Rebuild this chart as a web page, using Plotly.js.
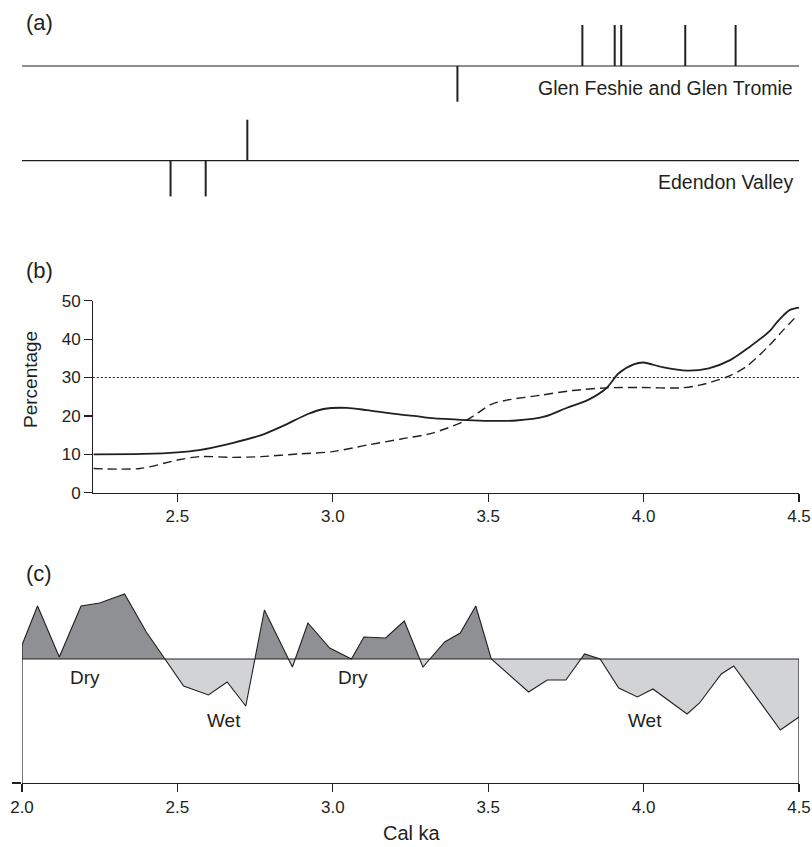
<!DOCTYPE html>
<html>
<head>
<meta charset="utf-8">
<script src="https://cdn.plot.ly/plotly-3.0.1.min.js"></script>
<style>html,body{margin:0;padding:0;background:#fff;}#chart{width:812px;height:847px;}</style>
</head>
<body>
<div id="chart"></div>
<script>
// ---------- Panel (a): dated events (cal ka) ----------
const glenLabel = "Glen Feshie and Glen Tromie";
const glenUp = [3.803, 3.907, 3.928, 4.134, 4.296];
const glenDown = [3.401];
const edenLabel = "Edendon Valley";
const edenUp = [2.725];
const edenDown = [2.478, 2.591];

// ---------- Panel (b): percentage curves ----------
const solidX = [2.23, 2.39, 2.50, 2.57, 2.68, 2.77, 2.84, 2.92, 2.97, 3.045, 3.11, 3.20, 3.28, 3.32, 3.43, 3.50, 3.59, 3.68, 3.75, 3.82, 3.88, 3.92, 3.97, 4.00, 4.06, 4.14, 4.21, 4.28, 4.34, 4.407, 4.428, 4.45, 4.471, 4.50];
const solidY = [10.0, 10.1, 10.5, 11.1, 13.0, 15.0, 17.4, 20.5, 21.8, 22.1, 21.5, 20.5, 19.8, 19.4, 18.9, 18.7, 18.8, 19.8, 22.0, 24.1, 27.2, 31.1, 33.5, 33.9, 32.7, 31.8, 32.4, 34.6, 37.9, 42.2, 44.3, 46.2, 47.6, 48.2];
const dashX = [2.23, 2.38, 2.50, 2.57, 2.68, 2.77, 2.89, 3.00, 3.11, 3.22, 3.32, 3.43, 3.51, 3.56, 3.67, 3.77, 3.88, 3.99, 4.12, 4.18, 4.27, 4.33, 4.40, 4.45, 4.49];
const dashY = [6.3, 6.3, 8.5, 9.4, 9.2, 9.4, 10.1, 10.7, 12.4, 14.0, 15.5, 18.9, 23.0, 24.1, 25.4, 26.6, 27.3, 27.4, 27.3, 28.0, 30.2, 32.8, 38.0, 42.4, 45.8];
const thresholdB = 30;
const bTicks = [2.5, 3.0, 3.5, 4.0, 4.5];
const bYTicks = [0, 10, 20, 30, 40, 50];

// ---------- Panel (c): dry/wet index ----------
const cX = [2.00, 2.05, 2.12, 2.19, 2.25, 2.33, 2.40, 2.52, 2.60, 2.66, 2.72, 2.78, 2.87, 2.92, 2.99, 3.06, 3.10, 3.17, 3.23, 3.29, 3.36, 3.41, 3.46, 3.51, 3.63, 3.69, 3.75, 3.81, 3.86, 3.92, 3.98, 4.03, 4.14, 4.18, 4.25, 4.29, 4.44, 4.50];
const cY = [1.4, 5.3, 0.2, 5.3, 5.6, 6.5, 2.7, -2.7, -3.6, -2.3, -4.7, 4.9, -0.8, 3.6, 1.1, 0.0, 2.2, 2.1, 3.8, -0.8, 1.7, 2.6, 5.3, 0.0, -3.3, -2.1, -2.1, 0.5, 0.0, -2.9, -3.8, -3.0, -5.5, -4.4, -1.5, -0.7, -7.1, -5.8];
const cTicks = [2.0, 2.5, 3.0, 3.5, 4.0, 4.5];
const cLabels = [{t: "Dry", x: 2.203, y: -1.8}, {t: "Wet", x: 2.65, y: -6.1}, {t: "Dry", x: 3.065, y: -1.8}, {t: "Wet", x: 4.005, y: -6.1}];

// ---------- styling constants ----------
const INK = "#231f20";
const FONT = "Liberation Sans, Arial, Helvetica, sans-serif";
const W = 812, H = 847;
const px = v => v / W;
const py = v => 1 - v / H;
const UP = 1, DOWN = -0.87, ROW2 = -2.31;
const C_BOTTOM = -12.4, C_TOP = 7.0;

function segs(vals, base, len) {
  const xs = [], ys = [];
  vals.forEach(v => { xs.push(v, v, null); ys.push(base, base + len, null); });
  return {xs, ys};
}
const a1 = segs(glenUp, 0, UP), a2 = segs(glenDown, 0, DOWN), a3 = segs(edenUp, ROW2, UP), a4 = segs(edenDown, ROW2, DOWN);
const aTicksX = [].concat(a1.xs, a2.xs, a3.xs, a4.xs);
const aTicksY = [].concat(a1.ys, a2.ys, a3.ys, a4.ys);

// split series into positive and negative parts with zero crossings
function splitSign(xs, ys, positive) {
  const ox = [], oy = [];
  const clip = v => positive ? Math.max(v, 0) : Math.min(v, 0);
  for (let i = 0; i < xs.length; i++) {
    if (i > 0) {
      const y0 = ys[i-1], y1 = ys[i];
      if ((y0 > 0 && y1 < 0) || (y0 < 0 && y1 > 0)) {
        const t = y0 / (y0 - y1);
        ox.push(xs[i-1] + t * (xs[i] - xs[i-1])); oy.push(0);
      }
    }
    ox.push(xs[i]); oy.push(clip(ys[i]));
  }
  return {ox, oy};
}
const pos = splitSign(cX, cY, true);
const neg = splitSign(cX, cY, false);
const xFirst = cX[0], xLast = cX[cX.length - 1];

const traces = [
  // panel a
  {x: [cTicks[0], cTicks[cTicks.length-1]], y: [0, 0], xaxis: "x", yaxis: "y", mode: "lines", line: {color: INK, width: 1.2}, hoverinfo: "skip"},
  {x: [cTicks[0], cTicks[cTicks.length-1]], y: [ROW2, ROW2], xaxis: "x", yaxis: "y", mode: "lines", line: {color: INK, width: 1.2}, hoverinfo: "skip"},
  {x: aTicksX, y: aTicksY, xaxis: "x", yaxis: "y", mode: "lines", line: {color: INK, width: 2}, hoverinfo: "skip"},
  // panel b
  {x: dashX, y: dashY, xaxis: "x2", yaxis: "y2", mode: "lines", line: {color: INK, width: 1.4, dash: "9px,5px", shape: "spline", smoothing: 0.8}},
  {x: solidX, y: solidY, xaxis: "x2", yaxis: "y2", mode: "lines", line: {color: INK, width: 1.8, shape: "spline", smoothing: 0.8}},
  // panel c
  {x: pos.ox, y: pos.oy, xaxis: "x3", yaxis: "y3", mode: "lines", fill: "tozeroy", fillcolor: "#8f9094", line: {width: 0}, hoverinfo: "skip"},
  {x: neg.ox, y: neg.oy, xaxis: "x3", yaxis: "y3", mode: "lines", fill: "tozeroy", fillcolor: "#d2d3d5", line: {width: 0}, hoverinfo: "skip"},
  {x: cX, y: cY, xaxis: "x3", yaxis: "y3", mode: "lines", line: {color: INK, width: 1.1}},
  {x: [xFirst, xLast, null, xFirst, xFirst, null, xLast, xLast], y: [0, 0, null, C_BOTTOM, cY[0], null, C_BOTTOM, 0], xaxis: "x3", yaxis: "y3", mode: "lines", line: {color: INK, width: 1.2}, hoverinfo: "skip"}
];

const tickFont = {family: FONT, size: 17, color: INK};
const annFont = {family: FONT, size: 19, color: INK};
const annotations = [
  {text: "(a)", x: px(24), y: py(22), xanchor: "left", yanchor: "middle", font: {family: FONT, size: 22, color: INK}},
  {text: "(b)", x: px(24), y: py(270), xanchor: "left", yanchor: "middle", font: {family: FONT, size: 22, color: INK}},
  {text: "(c)", x: px(24), y: py(573), xanchor: "left", yanchor: "middle", font: {family: FONT, size: 22, color: INK}},
  {text: glenLabel, x: px(795), y: py(88), xanchor: "right", yanchor: "middle", font: {family: FONT, size: 19.5, color: INK}},
  {text: edenLabel, x: px(795), y: py(182), xanchor: "right", yanchor: "middle", font: {family: FONT, size: 19.5, color: INK}},
  {text: "Percentage", x: px(30), y: py(380), xanchor: "center", yanchor: "middle", textangle: -90, font: annFont},
  {text: "Cal ka", x: px(412), y: py(833), xanchor: "center", yanchor: "middle", font: {family: FONT, size: 20, color: INK}}
].map(a => Object.assign({xref: "paper", yref: "paper", showarrow: false}, a));
cLabels.forEach(l => annotations.push({text: l.t, x: l.x, y: l.y, xref: "x3", yref: "y3", showarrow: false, xanchor: "center", yanchor: "middle", font: annFont}));

const layout = {
  width: W, height: H,
  margin: {l: 0, r: 0, t: 0, b: 0},
  paper_bgcolor: "#fff", plot_bgcolor: "rgba(0,0,0,0)",
  showlegend: false,
  font: {family: FONT, color: INK},
  xaxis: {domain: [px(22), px(799)], range: [2.0, 4.5], visible: false, anchor: "y"},
  yaxis: {domain: [py(200), py(20)], range: [1.122 - 4.39, 1.122], visible: false, anchor: "x"},
  xaxis2: {domain: [px(93.3), px(799)], range: [2.2295, 4.5], anchor: "y2", showline: true, linecolor: INK, linewidth: 1.3,
           ticks: "outside", ticklen: 8, tickcolor: INK, tickwidth: 1.2, tickvals: bTicks, tickformat: ".1f",
           tickfont: tickFont, showgrid: false, zeroline: false},
  yaxis2: {domain: [py(492.7), py(300.7)], range: [0, 50], anchor: "x2", showline: true, linecolor: INK, linewidth: 1.3,
           ticks: "outside", ticklen: 8, tickcolor: INK, tickwidth: 1.2, tickvals: bYTicks, tickfont: tickFont,
           showgrid: false, zeroline: false},
  xaxis3: {domain: [px(22), px(799)], range: [2.0, 4.5], anchor: "y3", showline: true, linecolor: INK, linewidth: 1.3,
           ticks: "outside", ticklen: 8, tickcolor: INK, tickwidth: 1.2, tickvals: cTicks, tickformat: ".1f",
           tickfont: tickFont, showgrid: false, zeroline: false},
  yaxis3: {domain: [py(783), py(589)], range: [C_BOTTOM, C_TOP], anchor: "x3", showline: false,
           ticks: "outside", ticklen: 9, tickcolor: INK, tickwidth: 1.2, tickvals: [C_BOTTOM], showticklabels: false,
           showgrid: false, zeroline: false},
  shapes: [
    {type: "line", xref: "x2 domain", yref: "y2", x0: -0.012, x1: 1, y0: thresholdB, y1: thresholdB,
     line: {color: INK, width: 1, dash: "2px,2px"}}
  ],
  annotations: annotations
};

Plotly.newPlot("chart", traces, layout, {displayModeBar: false, staticPlot: true});
</script>
</body>
</html>
